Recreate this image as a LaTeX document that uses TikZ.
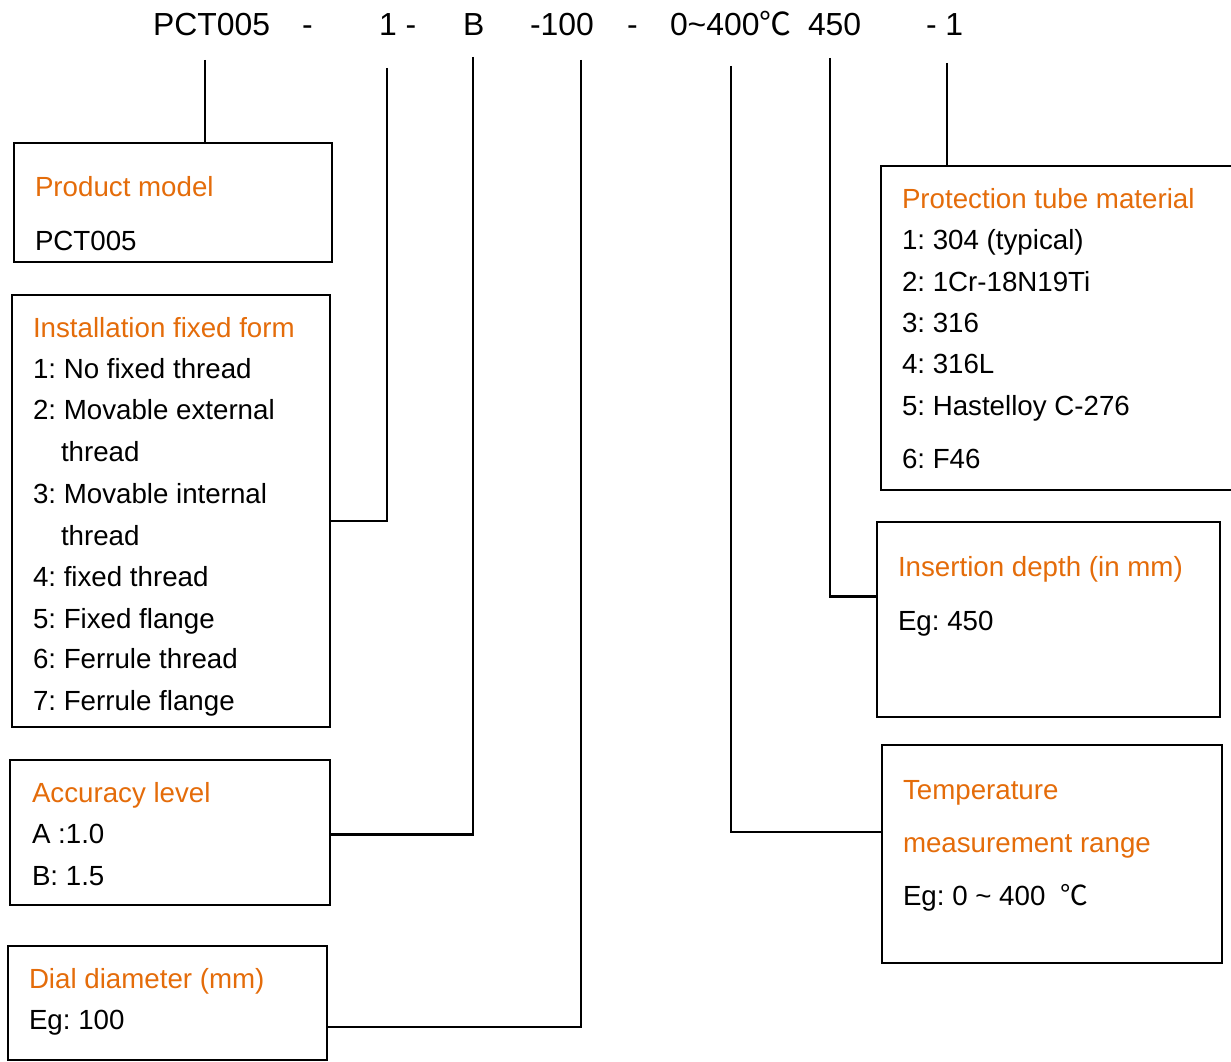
\documentclass[tikz,border=0pt]{standalone}
\usepackage{fontspec}
\setmainfont{Liberation Sans}
\newfontfamily\cjk{Noto Sans CJK SC}
\usetikzlibrary{positioning}
\definecolor{heading}{HTML}{E46C0A}
\definecolor{ink}{HTML}{000000}
\newcommand{\degc}{{\cjk ℃}}
\frenchspacing

\begin{document}
\begin{tikzpicture}[x=1pt,y=-1pt,
    every node/.style={inner sep=0pt,outer sep=0pt},
    code/.style={anchor=base west,text=ink,font=\fontsize{31.9}{38}\selectfont},
    item/.style={anchor=base west,text=ink,font=\fontsize{27.7}{33}\selectfont},
    head/.style={item,text=heading},
    field/.style 2 args={draw=ink,line width=2pt,anchor=north west,
      minimum width=#1,minimum height=#2},
    wire/.style={draw=ink,line width=2.2pt}]
    \useasboundingbox (0,0) rectangle (1231,1062);

    % the code string
    \node[code] (pct)   at (153,36) {PCT005};
    \node[code] (dash1) at (302,36) {-};
    \node[code] (inst)  at (379,36) {1 -};
    \node[code] (acc)   at (463,36) {B};
    \node[code] (dial)  at (530,36) {-100};
    \node[code] (dash2) at (627,36) {-};
    \node[code] (range) at (670,36) {0\textasciitilde400\degc};
    \node[code] (depth) at (808,36) {450};
    \node[code] (tube)  at (926,36) {- 1};

    \coordinate (pct-top)   at (205,60);
    \coordinate (inst-top)  at (387,68);
    \coordinate (acc-top)   at (473,57);
    \coordinate (dial-top)  at (581,60);
    \coordinate (range-top) at (731,66);
    \coordinate (depth-top) at (830,58);
    \coordinate (tube-top)  at (947,63);

    \node[field={318pt}{119pt}] (modelbox) at (14,143) {};
    \node[field={318pt}{432pt}] (instbox)  at (12,295) {};
    \node[field={320pt}{145pt}] (accbox)   at (10,760) {};
    \node[field={319pt}{114pt}] (dialbox)  at (8,946) {};
    \node[field={352pt}{324pt}] (tubebox)  at (881,166) {};
    \node[field={343pt}{195pt}] (depthbox) at (877,522) {};
    \node[field={340pt}{218pt}] (rangebox) at (882,745) {};

    \draw[wire] (pct-top) -- (pct-top |- modelbox.north);
    \draw[wire] (inst-top) |- ([yshift=-10pt]instbox.east);
    \draw[wire] (acc-top) |- ([yshift=-2pt]accbox.east);
    \draw[wire] (dial-top) |- ([yshift=-24pt]dialbox.east);
    \draw[wire] (range-top) |- ([yshift=22pt]rangebox.west);
    \draw[wire] (depth-top) |- ([yshift=23pt]depthbox.west);
    \draw[wire] (tube-top) -- (tube-top |- tubebox.north);

    \node[head] (model-h) at (35,196) {Product model};
    \node[item] (model-1) at (35,250) {PCT005};

    \node[head] (inst-h) at (33,337) {Installation fixed form};
    \foreach \x/\y/\t [count=\i] in {33/378/{1: No fixed thread},
      33/419/{2: Movable external},61/461/{thread},
      33/503/{3: Movable internal},61/545/{thread},
      33/586/{4: fixed thread},33/628/{5: Fixed flange},
      33/668/{6: Ferrule thread},33/710/{7: Ferrule flange}}{
      \node[item] (inst-\i) at (\x,\y) {\t};}

    \node[head] (acc-h) at (32,802) {Accuracy level};
    \node[item] (acc-1) at (32,843) {A :1.0};
    \node[item] (acc-2) at (32,885) {B: 1.5};

    \node[head] (dial-h) at (29,988) {Dial diameter (mm)};
    \node[item] (dial-1) at (29,1029) {Eg: 100};

    \node[head] (tube-h) at (902,208) {Protection tube material};
    \foreach \y/\t [count=\i] in {249/{1: 304 (typical)},291/{2: 1Cr-18N19Ti},
      332/{3: 316},373/{4: 316L},415/{5: Hastelloy C-276},468/{6: F46}}{
      \node[item] (tube-\i) at (902,\y) {\t};}

    \node[head] (depth-h) at (898,576) {Insertion depth (in mm)};
    \node[item] (depth-1) at (898,630) {Eg: 450};

    \node[head] (range-h1) at (903,799) {Temperature};
    \node[head] (range-h2) at (903,852) {measurement range};
    \node[item] (range-1)  at (903,905) {Eg: 0 \textasciitilde{} 400\ \ \degc};
  \end{tikzpicture}
\end{document}
